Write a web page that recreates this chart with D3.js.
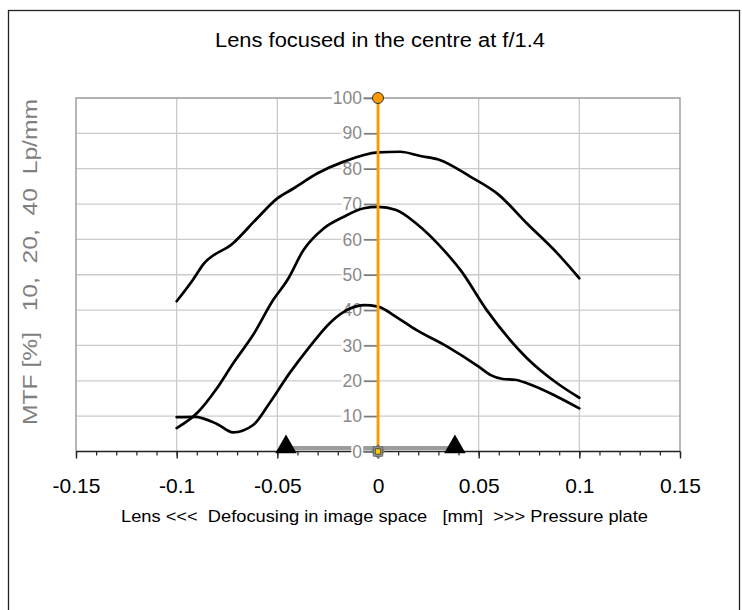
<!DOCTYPE html>
<html>
<head>
<meta charset="utf-8">
<script src="https://cdn.jsdelivr.net/npm/d3@7"></script>
<style>
  html, body { margin: 0; padding: 0; background: #fff; }
  svg { display: block; }
  text { font-family: "Liberation Sans", Arial, sans-serif; }
</style>
</head>
<body>
<svg id="chart" width="742" height="610"></svg>
<script>
// ---------------- data ----------------
const titleText = "Lens focused in the centre at f/1.4";
const xAxisTitle = "Lens <<<  Defocusing in image space   [mm]  >>> Pressure plate";
const yAxisTitle = "MTF [%]   10,  20,  40  Lp/mm";

const xTickValues = [-0.15, -0.1, -0.05, 0, 0.05, 0.1, 0.15];
const xTickLabels = ["-0.15", "-0.1", "-0.05", "0", "0.05", "0.1", "0.15"];
const yTickValues = [0, 10, 20, 30, 40, 50, 60, 70, 80, 90, 100];
const yTickLabels = ["0", "10", "20", "30", "40", "50", "60", "70", "80", "90", "100"];

// MTF at 10 Lp/mm
const mtf10 = [[-0.1, 42.5], [-0.092, 48.5], [-0.087, 52.8], [-0.072, 58.9], [-0.06, 66.0],
  [-0.05, 71.6], [-0.042, 74.4], [-0.03, 78.7], [-0.017, 82.0], [0, 84.6], [0.011, 84.8],
  [0.021, 83.6], [0.03, 82.6], [0.046, 77.7], [0.06, 72.6], [0.074, 64.5], [0.089, 56.1], [0.1, 49.0]];
// MTF at 20 Lp/mm
const mtf20 = [[-0.1, 6.6], [-0.09, 10.8], [-0.08, 17.9], [-0.072, 24.9], [-0.062, 33.0],
  [-0.052, 42.9], [-0.045, 48.5], [-0.037, 57.0], [-0.027, 63.1], [-0.017, 66.4], [-0.007, 68.8],
  [0, 69.2], [0.009, 68.3], [0.019, 64.5], [0.034, 56.1], [0.041, 51.3], [0.054, 40.0],
  [0.074, 26.4], [0.089, 19.3], [0.1, 15.2]];
// MTF at 40 Lp/mm
const mtf40 = [[-0.1, 9.7], [-0.091, 9.8], [-0.08, 7.8], [-0.072, 5.4], [-0.062, 7.5],
  [-0.054, 13.6], [-0.044, 22.1], [-0.034, 29.6], [-0.024, 36.3], [-0.017, 39.5], [-0.007, 41.4],
  [0, 41.0], [0.009, 38.1], [0.019, 34.4], [0.034, 29.8], [0.05, 24.0], [0.056, 21.6],
  [0.062, 20.5], [0.068, 20.3], [0.074, 19.3], [0.089, 15.5], [0.1, 12.2]];

// focus marker (orange vertical) and depth-of-focus range
const focusLine = [[0, 0], [0, 100]];
const focusRange = [[-0.0457, 1], [0.0382, 1]];

// ---------------- drawing ----------------
const svg = d3.select("#chart");
const plot = { left: 76, right: 680, top: 98, bottom: 451.5 };

const x = d3.scaleLinear().domain([-0.15, 0.15]).range([plot.left, plot.right]);
const y = d3.scaleLinear().domain([0, 100]).range([plot.bottom, plot.top]);

// outer frame
svg.append("rect").attr("x", 8.5).attr("y", 10.5).attr("width", 731).attr("height", 700)
  .attr("fill", "#fff").attr("stroke", "#222").attr("stroke-width", 1.3);

// gridlines
const grid = svg.append("g");
grid.selectAll("line.h").data(yTickValues.filter(v => v > 0 && v < 100)).join("line")
  .attr("x1", plot.left).attr("x2", plot.right)
  .attr("y1", d => y(d)).attr("y2", d => y(d))
  .attr("stroke", "#cbcbcb").attr("stroke-width", 1.3);
grid.selectAll("line.v").data(xTickValues.filter(v => v > -0.15 && v < 0.15 && v !== 0)).join("line")
  .attr("x1", d => x(d)).attr("x2", d => x(d))
  .attr("y1", plot.top).attr("y2", plot.bottom)
  .attr("stroke", "#cbcbcb").attr("stroke-width", 1.3);

// plot border (top, right, left)
svg.append("path")
  .attr("d", `M${plot.left},${plot.bottom} V${plot.top} H${plot.right} V${plot.bottom}`)
  .attr("fill", "none").attr("stroke", "#9a9a9a").attr("stroke-width", 1.4);

// x axis: minor ticks
const minorTicks = d3.range(-15, 16).map(i => i / 100);
svg.append("g").attr("transform", `translate(0,${plot.bottom})`)
  .call(d3.axisBottom(x).tickValues(minorTicks).tickSize(4).tickFormat(""))
  .call(g => g.select(".domain").remove())
  .call(g => g.selectAll("line").attr("stroke", "#222").attr("stroke-width", 1.2));

// x axis: major ticks + labels
const xAxisG = svg.append("g").attr("transform", `translate(0,${plot.bottom})`)
  .call(d3.axisBottom(x).tickValues(xTickValues).tickSize(7).tickPadding(20)
    .tickFormat((d, i) => xTickLabels[i]));
xAxisG.select(".domain").attr("stroke", "#222").attr("stroke-width", 1.6)
  .attr("d", `M${plot.left},0H${plot.right}`);
xAxisG.selectAll(".tick line").attr("stroke", "#222").attr("stroke-width", 1.4);
xAxisG.selectAll(".tick text").attr("font-size", 21).attr("fill", "#000")
  .attr("font-family", "Liberation Sans, Arial, sans-serif");

// depth-of-focus range bar
const line = d3.line().x(d => x(d[0])).y(d => y(d[1]));
svg.append("path").datum(focusRange).attr("d", line)
  .attr("fill", "none").attr("stroke", "#9c9c9c").attr("stroke-width", 4);

// y axis at x = 0 with white-boxed labels
const yAxisG = svg.append("g").attr("transform", `translate(${x(0)},0)`)
  .call(d3.axisLeft(y).tickValues(yTickValues).tickSize(14).tickPadding(2)
    .tickFormat((d, i) => yTickLabels[i]));
yAxisG.select(".domain").attr("stroke", "#888").attr("stroke-width", 1.2);
yAxisG.selectAll(".tick line").attr("stroke", "#7a7a7a").attr("stroke-width", 1.6);
yAxisG.selectAll(".tick text").attr("font-size", 17.5).attr("fill", "#8a8a8a")
  .attr("font-family", "Liberation Sans, Arial, sans-serif");
yAxisG.selectAll(".tick").each(function () {
  const t = d3.select(this).select("text");
  const bb = t.node().getBBox();
  d3.select(this).insert("rect", "text")
    .attr("x", bb.x - 1).attr("y", bb.y + 1).attr("width", bb.width + 2).attr("height", bb.height - 2)
    .attr("fill", "#fff");
});

// MTF curves
const curve = d3.line().x(d => x(d[0])).y(d => y(d[1])).curve(d3.curveMonotoneX);
[mtf10, mtf20, mtf40].forEach(s => {
  svg.append("path").datum(s).attr("d", curve)
    .attr("fill", "none").attr("stroke", "#000").attr("stroke-width", 2.7)
    .attr("stroke-linejoin", "round").attr("stroke-linecap", "round");
});

// orange focus line
svg.append("path").datum(focusLine).attr("d", line)
  .attr("fill", "none").attr("stroke", "#ff9900").attr("stroke-width", 2.8);
svg.append("circle").attr("cx", x(focusLine[1][0])).attr("cy", y(focusLine[1][1])).attr("r", 5.5)
  .attr("fill", "#ff9900").attr("stroke", "#333").attr("stroke-width", 1);

// bottom marker at (0,0)
const mx = x(focusLine[0][0]), my = y(focusLine[0][1]);
const sq = d3.symbol().type(d3.symbolSquare);
svg.append("path").attr("d", sq.size(90)()).attr("transform", `translate(${mx},${my}) rotate(45)`)
  .attr("fill", "#9a9a9a").attr("stroke", "#555").attr("stroke-width", 0.8);
svg.append("path").attr("d", sq.size(90)()).attr("transform", `translate(${mx},${my})`)
  .attr("fill", "#9a9a9a").attr("stroke", "#555").attr("stroke-width", 0.8);
svg.append("path").attr("d", sq.size(30)()).attr("transform", `translate(${mx},${my})`)
  .attr("fill", "#ffcc00").attr("stroke", "#333").attr("stroke-width", 0.8);

// triangles at the ends of the range
const tri = d3.symbol().type(d3.symbolTriangle).size(200);
svg.selectAll("path.tri").data(focusRange).join("path")
  .attr("d", tri())
  .attr("transform", d => `translate(${x(d[0])},${y(d[1]) - 1})`)
  .attr("fill", "#000");

// title
svg.append("text").attr("x", 215).attr("y", 47)
  .attr("font-size", 20).attr("fill", "#000")
  .attr("textLength", 330).attr("lengthAdjust", "spacingAndGlyphs")
  .text(titleText);

// x axis title
svg.append("text").attr("x", 121).attr("y", 522)
  .attr("font-size", 17).attr("fill", "#000").style("white-space", "pre")
  .attr("textLength", 527).attr("lengthAdjust", "spacingAndGlyphs")
  .text(xAxisTitle);

// y axis title
svg.append("text").attr("transform", `translate(37,${425}) rotate(-90)`)
  .attr("font-size", 20).attr("fill", "#808080").style("white-space", "pre")
  .attr("textLength", 326).attr("lengthAdjust", "spacingAndGlyphs")
  .text(yAxisTitle);
</script>
</body>
</html>
